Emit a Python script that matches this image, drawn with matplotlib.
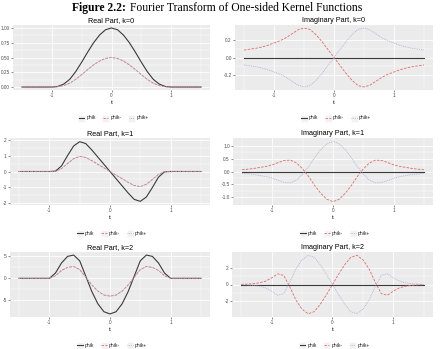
import numpy as np
import matplotlib.pyplot as plt
from matplotlib.patches import Rectangle
from matplotlib.lines import Line2D

plt.rcParams['font.family'] = ['Liberation Sans', 'DejaVu Sans']

# sample points of t
t = [-1.5, -1.4, -1.3, -1.2, -1.1, -1.0, -0.9, -0.8, -0.7, -0.6, -0.5, -0.4, -0.3, -0.2, -0.1, 0.0,
     0.1, 0.2, 0.3, 0.4, 0.5, 0.6, 0.7, 0.8, 0.9, 1.0, 1.1, 1.2, 1.3, 1.4, 1.5]

# Real part, k=0
re0_phik = [0, 0, 0, 0, 0, 0, 0.01, 0.05, 0.13, 0.26, 0.42, 0.59, 0.75, 0.88, 0.97, 1.0,
            0.97, 0.88, 0.75, 0.59, 0.42, 0.26, 0.13, 0.05, 0.01, 0, 0, 0, 0, 0, 0]
re0_minus = [0, 0, 0, 0, 0, 0, 0.005, 0.025, 0.065, 0.13, 0.21, 0.295, 0.375, 0.44, 0.485, 0.5,
             0.485, 0.44, 0.375, 0.295, 0.21, 0.13, 0.065, 0.025, 0.005, 0, 0, 0, 0, 0, 0]
re0_plus = [0, 0, 0, 0, 0, 0, 0.005, 0.025, 0.065, 0.13, 0.21, 0.295, 0.375, 0.44, 0.485, 0.5,
            0.485, 0.44, 0.375, 0.295, 0.21, 0.13, 0.065, 0.025, 0.005, 0, 0, 0, 0, 0, 0]

# Imaginary part, k=0
im0_phik = [0] * 31
im0_minus = [0.085, 0.095, 0.105, 0.12, 0.14, 0.165, 0.19, 0.225, 0.27, 0.315, 0.335, 0.32, 0.26, 0.18, 0.09, 0,
             -0.09, -0.18, -0.26, -0.32, -0.335, -0.315, -0.27, -0.225, -0.19, -0.165, -0.14, -0.12, -0.105, -0.095, -0.085]
im0_plus = [-0.085, -0.095, -0.105, -0.12, -0.14, -0.165, -0.19, -0.225, -0.27, -0.315, -0.335, -0.32, -0.26, -0.18, -0.09, 0,
            0.09, 0.18, 0.26, 0.32, 0.335, 0.315, 0.27, 0.225, 0.19, 0.165, 0.14, 0.12, 0.105, 0.095, 0.085]

# Real part, k=1
re1_phik = [0, 0, 0, 0, 0, 0, 0.02, 0.35, 1.0, 1.6, 1.87, 1.75, 1.35, 0.9, 0.45, 0,
            -0.45, -0.9, -1.35, -1.75, -1.87, -1.6, -1.0, -0.35, -0.02, 0, 0, 0, 0, 0, 0]
re1_minus = [0, 0, 0, 0, 0, 0, 0.01, 0.18, 0.5, 0.8, 0.95, 0.88, 0.68, 0.45, 0.23, 0,
             -0.23, -0.45, -0.68, -0.88, -0.95, -0.8, -0.5, -0.18, -0.01, 0, 0, 0, 0, 0, 0]
re1_plus = [0, 0, 0, 0, 0, 0, 0.01, 0.18, 0.5, 0.8, 0.95, 0.88, 0.68, 0.45, 0.23, 0,
            -0.23, -0.45, -0.68, -0.88, -0.95, -0.8, -0.5, -0.18, -0.01, 0, 0, 0, 0, 0, 0]

# Imaginary part, k=1
im1_phik = [0] * 31
im1_minus = [0.07, 0.09, 0.12, 0.16, 0.2, 0.26, 0.35, 0.43, 0.44, 0.33, 0.1, -0.2, -0.55, -0.85, -1.08, -1.17,
             -1.08, -0.85, -0.55, -0.2, 0.1, 0.33, 0.44, 0.43, 0.35, 0.26, 0.2, 0.16, 0.12, 0.09, 0.07]
im1_plus = [-0.07, -0.09, -0.12, -0.16, -0.2, -0.26, -0.35, -0.43, -0.44, -0.33, -0.1, 0.2, 0.55, 0.85, 1.08, 1.17,
            1.08, 0.85, 0.55, 0.2, -0.1, -0.33, -0.44, -0.43, -0.35, -0.26, -0.2, -0.16, -0.12, -0.09, -0.07]

# Real part, k=2
re2_phik = [0, 0, 0, 0, 0, 0, 1.2, 3.5, 5.0, 5.3, 4.0, 0.5, -3.0, -5.8, -7.6, -8.1,
            -7.6, -5.8, -3.0, 0.5, 4.0, 5.3, 5.0, 3.5, 1.2, 0, 0, 0, 0, 0, 0]
re2_minus = [0, 0, 0, 0, 0, 0, 0.6, 1.8, 2.5, 2.7, 2.0, 0.25, -1.5, -2.9, -3.8, -4.05,
             -3.8, -2.9, -1.5, 0.25, 2.0, 2.7, 2.5, 1.8, 0.6, 0, 0, 0, 0, 0, 0]
re2_plus = [0, 0, 0, 0, 0, 0, 0.6, 1.8, 2.5, 2.7, 2.0, 0.25, -1.5, -2.9, -3.8, -4.05,
            -3.8, -2.9, -1.5, 0.25, 2.0, 2.7, 2.5, 1.8, 0.6, 0, 0, 0, 0, 0, 0]

# Imaginary part, k=2
im2_phik = [0] * 31
im2_minus = [0.02, 0.05, 0.1, 0.2, 0.4, 0.8, 1.3, 1.1, -0.3, -1.9, -3.0, -3.55, -3.3, -2.4, -1.25, 0,
             1.25, 2.4, 3.3, 3.55, 3.0, 1.9, 0.3, -1.1, -1.3, -0.8, -0.4, -0.2, -0.1, -0.05, -0.02]
im2_plus = [-0.02, -0.05, -0.1, -0.2, -0.4, -0.8, -1.3, -1.1, 0.3, 1.9, 3.0, 3.55, 3.3, 2.4, 1.25, 0,
            -1.25, -2.4, -3.3, -3.55, -3.0, -1.9, -0.3, 1.1, 1.3, 0.8, 0.4, 0.2, 0.1, 0.05, 0.02]

labels = ['phik', 'phik-', 'phik+']
titles = ['Real Part, k=0', 'Imaginary Part, k=0', 'Real Part, k=1',
          'Imaginary Part, k=1', 'Real Part, k=2', 'Imaginary Part, k=2']

W, H = 441, 349
fig = plt.figure(figsize=(W / 100, H / 100), dpi=100)

styles = [dict(color='#3a3a3a', lw=0.8, ls='-'),
          dict(color='#e06a6a', lw=0.6, dashes=(3, 1.6)),
          dict(color='#a7abd6', lw=0.6, dashes=(1, 1.2))]


def px_axes(x0, y0, x1, y1):
    return fig.add_axes([x0 / W, 1 - y1 / H, (x1 - x0) / W, (y1 - y0) / H])


def draw_legend(xc, yc):
    widths = [13, 15, 15]
    key = 7
    total = sum(widths) + 3 * (key + 1) + 2 * 3
    x = xc - total / 2
    for lab, st, w in zip(labels, styles, widths):
        fig.add_artist(Rectangle((x / W, 1 - (yc + key / 2) / H), key / W, key / H,
                                 transform=fig.transFigure, facecolor='#f2f2f2', edgecolor='white', lw=0.4))
        ln = Line2D([(x + 0.8) / W, (x + key - 0.8) / W], [1 - yc / H] * 2, transform=fig.transFigure, **st)
        fig.add_artist(ln)
        fig.text((x + key + 1.5) / W, 1 - yc / H, lab, fontsize=3.6, va='center', ha='left', color='#222222')
        x += key + 1 + w + 3


panels = [
    (re0_phik, re0_minus, re0_plus, [0, 0.25, 0.5, 0.75, 1.0], ['0.00', '0.25', '0.50', '0.75', '1.00'], (-0.05, 1.05), (13, 25, 210, 90)),
    (im0_phik, im0_minus, im0_plus, [-0.2, 0, 0.2], ['-0.2', '0.0', '0.2'], (-0.37, 0.37), (235, 25, 433, 90)),
    (re1_phik, re1_minus, re1_plus, [-2, -1, 0, 1, 2], ['-2', '-1', '0', '1', '2'], (-2.1, 2.1), (10, 138, 210, 205)),
    (im1_phik, im1_minus, im1_plus, [-1, -0.5, 0, 0.5, 1], ['-1.0', '-0.5', '0.0', '0.5', '1.0'], (-1.3, 1.3), (233, 138, 433, 205)),
    (re2_phik, re2_minus, re2_plus, [-5, 0, 5], ['-5', '0', '5'], (-8.8, 6.0), (10, 252, 210, 317)),
    (im2_phik, im2_minus, im2_plus, [-2, 0, 2], ['-2', '0', '2'], (-3.95, 3.95), (232, 252, 433, 317)),
]

for title, (a, b, c, yt, ytl, yl, rect) in zip(titles, panels):
    ax = px_axes(*rect)
    ax.set_facecolor('#ebebeb')
    for s in ax.spines.values():
        s.set_visible(False)
    ax.set_xlim(-1.65, 1.65)
    ax.set_ylim(*yl)
    ax.set_xticks([-1, 0, 1])
    ax.set_xticklabels(['-1', '0', '1'])
    ax.set_xticks([-1.5, -0.5, 0.5, 1.5], minor=True)
    ax.set_yticks(yt)
    ax.set_yticklabels(ytl)
    ym = [(yt[i] + yt[i + 1]) / 2 for i in range(len(yt) - 1)]
    ax.set_yticks(ym, minor=True)
    ax.grid(True, which='major', color='white', lw=0.6)
    ax.grid(True, which='minor', color='white', lw=0.3)
    ax.set_axisbelow(True)
    ax.tick_params(which='major', length=1.5, width=0.4, color='#333333', labelsize=3.4,
                   labelcolor='#4d4d4d', pad=0.8)
    ax.tick_params(which='minor', length=0)
    ax.set_xlabel('t', fontsize=4.5, labelpad=1)
    ax.set_title(title, fontsize=5.2, pad=2)
    for ys, st in zip([a, b, c], styles):
        ax.plot(t, ys, **st)
    xc = (rect[0] + rect[2]) / 2 + 3
    draw_legend(xc, rect[3] + 28)

# main caption, sized to span the same width as in the reference
fig.canvas.draw()
r = fig.canvas.get_renderer()
fs = 10
t1 = fig.text(0, 1 - 8 / H, 'Figure 2.2:', fontsize=fs, fontweight='bold', family='Liberation Serif',
              va='center', ha='left')
t2 = fig.text(0, 1 - 8 / H, 'Fourier Transform of One-sided Kernel Functions', fontsize=fs,
              family='Liberation Serif', va='center', ha='left')
w1 = t1.get_window_extent(renderer=r).width
w2 = t2.get_window_extent(renderer=r).width
scale = 290 / (w1 + w2 + 3)
t1.set_fontsize(fs * scale)
t2.set_fontsize(fs * scale)
t1.set_x(72 / W)
t2.set_x((72 + w1 * scale + 3) / W)

fig.savefig('out.png', dpi=100)
